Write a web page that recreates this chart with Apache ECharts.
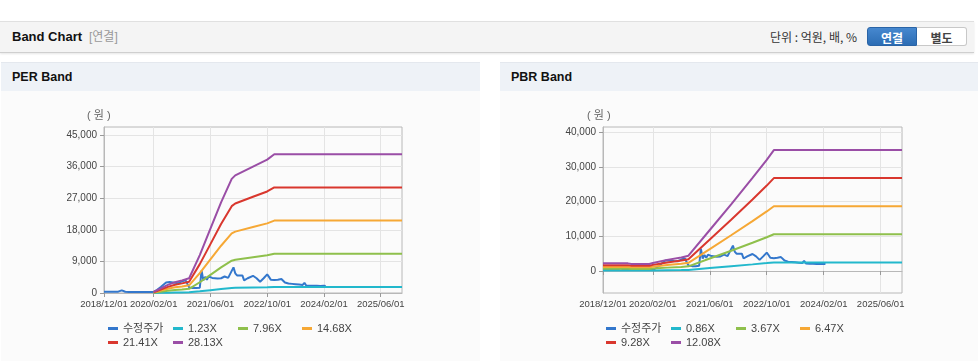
<!DOCTYPE html>
<html><head><meta charset="utf-8">
<script src="https://cdn.jsdelivr.net/npm/echarts@6/dist/echarts.min.js"></script>
<style>
html,body{margin:0;padding:0;background:#fff;}
body{width:978px;height:361px;position:relative;overflow:hidden;font-family:'Liberation Sans',Arial,'Noto Sans CJK KR',sans-serif;color:#222;}
.abs{position:absolute;}
#hdr{left:0;top:21px;width:974px;height:30px;background:#f4f4f4;border-top:1px solid #e0e0e0;border-bottom:1px solid #cfcfcf;box-shadow:0 1px 2px rgba(0,0,0,0.10);}
#hdrTitle{left:12px;top:0;line-height:30px;font-size:13px;font-weight:bold;color:#111;}
#hdrSub{left:89px;top:0;line-height:30px;font-size:12px;color:#999;}
#unit{left:770px;top:0;line-height:30px;font-size:12px;color:#333;font-family:'Noto Sans CJK KR','Liberation Sans',sans-serif;}
.btn{top:5px;height:19px;line-height:19px;width:50px;text-align:center;font-size:12px;font-weight:bold;box-sizing:border-box;font-family:'Noto Sans CJK KR',sans-serif;}
#b1{left:867px;background:linear-gradient(#4688cf,#2c6db4);color:#fff;border:1px solid #2a64a6;border-radius:3px 0 0 3px;}
#b2{left:917px;background:#fff;color:#444;border:1px solid #c8c8c8;border-left:none;border-radius:0 3px 3px 0;}
.ptitle{top:62px;height:29px;background:#eef2f7;border-top:1px solid #e4e8ee;box-sizing:border-box;}
.ptitle span{position:absolute;left:11px;top:0;line-height:28px;font-size:12.5px;font-weight:bold;color:#111;}
.pbody{top:91px;height:270px;background:#fbfbfb;}
</style></head>
<body>
<div id="hdr" class="abs">
  <div id="hdrTitle" class="abs">Band Chart</div>
  <div id="hdrSub" class="abs">[연결]</div>
  <div id="unit" class="abs">단위 : 억원, 배, %</div>
  <div id="b1" class="abs btn">연결</div>
  <div id="b2" class="abs btn">별도</div>
</div>
<div class="abs ptitle" style="left:1px;width:479px;"><span>PER Band</span></div>
<div class="abs ptitle" style="left:500px;width:478px;"><span>PBR Band</span></div>
<div class="abs pbody" style="left:1px;width:479px;"></div>
<div class="abs pbody" style="left:500px;width:478px;"></div>
<div id="c1" class="abs" style="left:0;top:91px;width:490px;height:270px;"></div>
<div id="c2" class="abs" style="left:490px;top:91px;width:488px;height:270px;"></div>
<script>
// ---- categories (half-month steps, 2018/12/01 .. 2025/12/01)
const categories = [];
(function(){
  let y = 2018, mo = 12;
  while (true) {
    const mm = String(mo).padStart(2, '0');
    categories.push(y + '/' + mm + '/01');
    if (y === 2025 && mo === 12) break;
    categories.push(y + '/' + mm + '/16');
    mo++; if (mo > 12) { mo = 1; y++; }
  }
})();
const xTickLabels = ['2018/12/01', '2020/02/01', '2021/06/01', '2022/10/01', '2024/02/01', '2025/06/01'];

// ---- adjusted price (수정주가), shared by both charts
const priceDates = ['2018/12/01','2019/01/01','2019/02/01','2019/03/01','2019/04/01','2019/04/16','2019/05/01','2019/05/16','2019/06/01','2019/07/01','2019/09/01','2019/11/01','2020/01/01','2020/02/01','2020/03/01','2020/04/01','2020/04/16','2020/05/16','2020/06/01','2020/06/16','2020/07/01','2020/08/01','2020/09/01','2020/10/01','2020/10/16','2020/11/01','2020/11/16','2020/12/01','2021/01/01','2021/02/01','2021/03/01','2021/03/16','2021/04/01','2021/04/16','2021/05/01','2021/05/16','2021/06/01','2021/06/16','2021/07/01','2021/08/01','2021/09/01','2021/09/16','2021/10/01','2021/11/01','2021/11/16','2021/12/16','2022/01/01','2022/01/16','2022/02/01','2022/03/01','2022/03/16','2022/04/01','2022/04/16','2022/05/01','2022/06/01','2022/06/16','2022/07/01','2022/08/01','2022/08/16','2022/09/01','2022/09/16','2022/10/01','2022/10/16','2022/11/01','2022/12/01','2023/01/01','2023/02/01','2023/02/16','2023/03/01','2023/04/01','2023/05/01','2023/06/01','2023/07/01','2023/08/01','2023/08/16','2023/09/01','2023/10/01','2023/11/01','2023/12/01','2024/01/01','2024/02/01','2024/02/16'];
const priceValues = [380,370,380,360,380,700,760,700,350,300,290,280,290,300,900,1700,2000,3000,3400,3100,2700,2900,2800,3300,3200,3600,3500,1600,1400,1400,1500,6400,3600,4600,3800,4700,4900,4300,4200,4100,4200,4600,4700,4300,4200,7300,5600,5000,4900,5000,3600,3700,4200,4000,4900,5000,4200,3200,3300,4200,4400,5300,4600,3800,3700,3800,4000,4400,3000,2700,2600,2500,2400,2300,2900,2150,2100,2100,2050,2000,2050,2000];

// ---- PER band
const perLegend = ['수정주가', '1.23X', '7.96X', '14.68X', '21.41X', '28.13X'];
const perDates = ['2020/02/01','2020/04/01','2020/06/01','2020/08/01','2020/10/01','2020/12/01','2021/03/01','2021/06/01','2021/09/01','2021/12/01','2022/01/01','2022/06/01','2022/10/01','2022/12/01','2025/12/01'];
const per123  = [13, 57, 101, 136, 157, 184, 472, 800, 1128, 1421, 1465, 1574, 1662, 1727, 1727];
const per796  = [85, 368, 651, 877, 1019, 1188, 3056, 5179, 7301, 9197, 9480, 10187, 10753, 11177, 11177];
const per1468 = [157, 678, 1201, 1618, 1879, 2192, 5636, 9551, 13464, 16961, 17482, 18787, 19831, 20614, 20614];
const per2141 = [229, 989, 1751, 2359, 2740, 3197, 8220, 13929, 19637, 24737, 25497, 27401, 28923, 30064, 30064];
const per2813 = [300, 1300, 2300, 3100, 3600, 4200, 10800, 18300, 25800, 32500, 33500, 36000, 38000, 39500, 39500];
const perYTicks = [0, 9000, 18000, 27000, 36000, 45000];

// ---- PBR band
const pbrLegend = ['수정주가', '0.86X', '3.67X', '6.47X', '9.28X', '12.08X'];
const pbrDates = ['2018/12/01','2019/07/01','2019/08/01','2020/01/01','2020/02/01','2020/06/01','2020/10/01','2020/12/01','2021/06/01','2021/12/01','2022/06/01','2022/10/01','2022/12/01','2025/12/01'];
const pbr086  = [157, 157, 142, 142, 164, 228, 278, 313, 840, 1367, 1908, 2278, 2478, 2478];
const pbr367  = [668, 668, 608, 608, 699, 972, 1185, 1337, 3585, 5833, 8142, 9722, 10572, 10572];
const pbr647  = [1178, 1178, 1071, 1071, 1232, 1714, 2089, 2357, 6320, 10284, 14354, 17139, 18639, 18639];
const pbr928  = [1690, 1690, 1536, 1536, 1767, 2458, 2996, 3380, 9065, 14749, 20588, 24582, 26733, 26733];
const pbr1208 = [2200, 2200, 2000, 2000, 2300, 3200, 3900, 4400, 11800, 19200, 26800, 32000, 34800, 34800];
const pbrYTicks = [0, 10000, 20000, 30000, 40000];

const COLORS = ['#3377cc', '#22b8cc', '#8fc04c', '#f6a835', '#d9372e', '#9a4ea6'];
const FONT = "'Liberation Sans', Arial, 'Noto Sans CJK KR', sans-serif";

function pairs(dates, vals) { return dates.map((d, i) => [d, vals[i]]); }
const isTick = (idx, val) => xTickLabels.indexOf(val) >= 0;

function build(cfg) {
  const series = cfg.legend.map((name, i) => ({
    name: name, type: 'line', data: cfg.data[i], showSymbol: false, symbol: 'none',
    lineStyle: { width: 2, color: COLORS[i] }, itemStyle: { color: COLORS[i] },
    emphasis: { disabled: true }, animation: false
  }));
  const colOffsets = [0, 65, 130, 194, 0, 65];
  const legends = cfg.legend.map((name, i) => ({
    orient: 'horizontal', icon: 'rect', itemWidth: 10, itemHeight: 3, padding: 0,
    selectedMode: false,
    left: cfg.legendLeft + colOffsets[i], top: i < 4 ? 232 : 246,
    textStyle: { fontSize: 11, color: '#444', fontFamily: FONT },
    data: [name]
  }));
  return {
    animation: false,
    textStyle: { fontFamily: FONT },
    grid: { left: cfg.left, top: 36, width: cfg.width, height: 166, show: true, borderColor: '#b8b8b8', borderWidth: 1, backgroundColor: 'transparent' },
    xAxis: {
      type: 'category', data: categories, boundaryGap: false,
      axisLine: { show: true, lineStyle: { color: '#b8b8b8' } },
      axisTick: { show: true, interval: isTick, length: 4, lineStyle: { color: '#999' } },
      axisLabel: { interval: isTick, fontSize: 9.5, color: '#444', margin: 7, showMinLabel: true, showMaxLabel: true },
      splitLine: { show: true, interval: isTick, lineStyle: { color: '#e4e4e4' } }
    },
    yAxis: {
      type: 'value', min: cfg.min, max: cfg.max,
      axisLine: { show: true, lineStyle: { color: '#b8b8b8' } },
      axisTick: { show: true, customValues: cfg.ticks, length: 4, lineStyle: { color: '#999' } },
      axisLabel: { customValues: cfg.ticks, fontSize: 10, color: '#444', margin: 7, formatter: v => Number(v).toLocaleString('en-US') },
      splitLine: { show: true, lineStyle: { color: '#e4e4e4' } }
    },
    legend: legends,
    graphic: [{ type: 'text', left: cfg.unitLeft, top: 19, style: { text: '( 원 )', fontSize: 11, fill: '#666', fontFamily: FONT } }],
    series: series
  };
}

const perData = [pairs(priceDates, priceValues), pairs(perDates, per123), pairs(perDates, per796), pairs(perDates, per1468), pairs(perDates, per2141), pairs(perDates, per2813)];
const pbrData = [pairs(priceDates, priceValues), pairs(pbrDates, pbr086), pairs(pbrDates, pbr367), pairs(pbrDates, pbr647), pairs(pbrDates, pbr928), pairs(pbrDates, pbr1208)];

const c1 = echarts.init(document.getElementById('c1'), null, { renderer: 'canvas' });
c1.setOption(build({ legend: perLegend, data: perData, left: 104, width: 298, min: 0, max: 47280, ticks: perYTicks, legendLeft: 108, unitLeft: 87 }));
const c2 = echarts.init(document.getElementById('c2'), null, { renderer: 'canvas' });
c2.setOption(build({ legend: pbrLegend, data: pbrData, left: 113, width: 299, min: -6330, max: 41440, ticks: pbrYTicks, legendLeft: 116, unitLeft: 97 }));
</script>
</body></html>
